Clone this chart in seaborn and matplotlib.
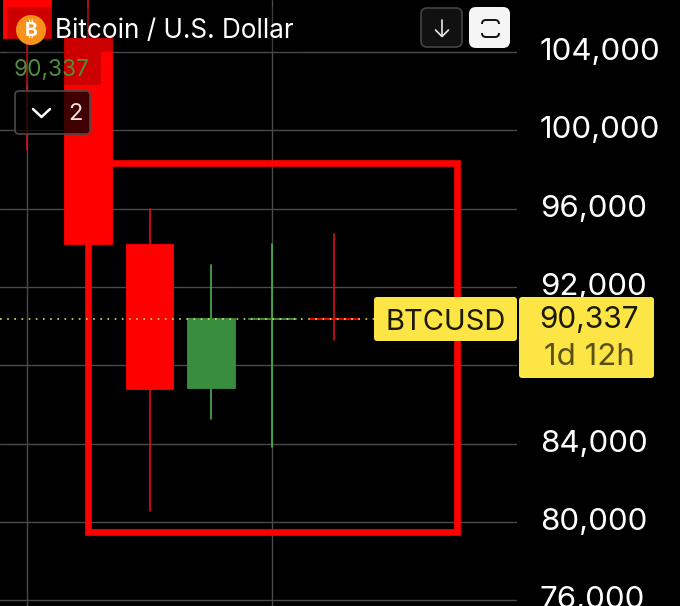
import matplotlib
matplotlib.use('Agg')
import matplotlib.pyplot as plt
import pandas as pd
import seaborn as sns
from matplotlib.patches import Circle, FancyBboxPatch, Rectangle
from matplotlib.transforms import ScaledTranslation

# candles, top ones run off the picture
candle_idx = [0, 1, 2, 3, 4, 5]
opens = [108000, 104700, 94200, 86830, 90337, 90400]
closes = [104715, 94216, 86800, 90390, 90420, 90337]
highs = [108000, 107500, 95980, 93120, 94190, 94700]
lows = [99000, 94216, 80550, 85250, 83820, 89290]

price_ticks = [76000, 80000, 84000, 88000, 92000, 96000, 100000, 104000]
last_price = 90337

# red box somebody drew on the chart
box_x = [0.995, 7.0]
box_y = [79500, 98350]

RED = '#ff0000'
GREEN = '#388e3c'
WICK_RED = '#d81010'
WICK_GREEN = '#4caf50'
GRID = '#4a4a4a'
YELLOW = '#fde546'
FONT = 'Inter'

df = pd.DataFrame({'idx': candle_idx, 'open': opens, 'close': closes, 'high': highs, 'low': lows})
df['up'] = df['close'] > df['open']
df['body_low'] = df[['open', 'close']].min(axis=1)
df['body_h'] = (df['open'] - df['close']).abs()

sns.set_theme(style='dark', rc={
    'figure.facecolor': 'black', 'axes.facecolor': 'black',
    'axes.edgecolor': 'black', 'grid.color': GRID,
})
plt.rcParams['font.family'] = [FONT, 'Noto Sans', 'Roboto', 'Open Sans', 'Lato', 'DejaVu Sans']

fig = plt.figure(figsize=(6.8, 6.06), dpi=100)
ax = fig.add_axes([0, 0, 517 / 680, 1])

# wicks
wicks = df.melt(id_vars=['idx', 'up'], value_vars=['high', 'low'], value_name='price')
sns.lineplot(data=wicks, x='idx', y='price', units='idx', estimator=None, hue='up',
             palette={True: WICK_GREEN, False: WICK_RED},
             linewidth=1.2, legend=False, ax=ax, zorder=2)

# bodies
for _, row in df.iterrows():
    col = GREEN if row['up'] else RED
    sns.barplot(x=[row['idx']], y=[row['body_h']], bottom=row['body_low'], native_scale=True,
                width=0.78, color=col, saturation=1, edgecolor=col, linewidth=0.6, ax=ax, zorder=3)

ax.set_xlim(-0.435, 7.985)
ax.set_ylim(75700, 106656)
ax.set_xlabel('')
ax.set_ylabel('')
ax.set_xticks([0, 4])
ax.set_xticklabels([])
ax.set_yticks(price_ticks)
ax.set_yticklabels([f'{p:,}' for p in price_ticks])
ax.yaxis.tick_right()
ax.tick_params(axis='y', right=False, left=False, pad=10.5, labelsize=22.5, labelcolor='white')
ax.tick_params(axis='x', bottom=False)
ax.grid(True, color=GRID, linewidth=1.0)
ax.set_axisbelow(True)
for s in ax.spines.values():
    s.set_visible(False)

# labels sit a bit above their grid lines
for lab in ax.get_yticklabels():
    lab.set_transform(lab.get_transform() + ScaledTranslation(0, 3 / 100, fig.dpi_scale_trans))

ax.add_patch(Rectangle((box_x[0], box_y[0]), box_x[1] - box_x[0], box_y[1] - box_y[0],
                       fill=False, edgecolor=RED, linewidth=4.8, joinstyle='miter', zorder=4))
ax.plot([-0.435, 5.67], [last_price, last_price], ls=(0, (1, 3.3)), lw=1.2, color='#dede5e', zorder=5)

# everything from the app UI on top, in pixels
ui = fig.add_axes([0, 0, 1, 1])
ui.set_xlim(0, 680)
ui.set_ylim(606, 0)
ui.axis('off')
ui.patch.set_alpha(0)


def rbox(x0, y0, x1, y1, r=3, **kw):
    p = FancyBboxPatch((x0 + r, y0 + r), x1 - x0 - 2 * r, y1 - y0 - 2 * r,
                       boxstyle=f'round,pad={r},rounding_size={r}', **kw)
    ui.add_patch(p)


# dim backdrops behind the legend
ui.add_patch(Rectangle((7, 7), 293, 45, color='black', alpha=0.2, lw=0))
ui.add_patch(Rectangle((7, 52), 94, 33, color='black', alpha=0.2, lw=0))
rbox(15, 91, 90, 134, r=4, facecolor=(0, 0, 0, 0.75), edgecolor='#4a4a4a', linewidth=1.2)

ui.add_patch(Circle((31, 30), 15, color='#f7931a', lw=0))
ui.text(31, 31, '\u20bf', color='white', fontsize=14, fontweight='bold', ha='center', va='center')
ui.text(55, 31, 'Bitcoin / U.S. Dollar', color='white', fontsize=18.8, ha='left', va='center')
ui.text(14, 70, '90,337', color='#4c8f3f', fontsize=16.3, ha='left', va='center')
ui.plot([33, 41.5, 50], [109, 117, 109], color='white', lw=1.8, solid_capstyle='round')
ui.text(75, 114, '2', color='#f0e0e0', fontsize=17, ha='center', va='center')

# buttons
rbox(421, 8, 462, 47, r=6, facecolor='#111111', edgecolor='#444444', linewidth=1.2)
ui.plot([442, 442], [20, 36], color='#e8e8e8', lw=1.2)
ui.plot([435.5, 442, 448.5], [30, 36.5, 30], color='#e8e8e8', lw=1.2)
rbox(469, 7, 510, 48, r=7, facecolor='#f5f5f5', edgecolor='none')
rbox(482, 20, 499, 37, r=4, facecolor='none', edgecolor='#111111', linewidth=1.4)
ui.add_patch(Rectangle((478, 24), 25, 9, color='#f5f5f5', lw=0, zorder=3))

# price tags
rbox(374, 297, 517, 341, r=3, facecolor=YELLOW, edgecolor='none', zorder=5)
rbox(519, 297, 654, 378, r=3, facecolor=YELLOW, edgecolor='none', zorder=5)
ui.text(446, 322, 'BTCUSD', color='#1a1a00', fontsize=21, ha='center', va='center', zorder=6)
ui.text(589, 320, '90,337', color='#1a1a00', fontsize=21.5, ha='center', va='center', zorder=6)
ui.text(589, 357, '1d 12h', color='#5a5214', fontsize=22.5, ha='center', va='center', zorder=6)

fig.savefig('out.png', dpi=100, facecolor='black')
